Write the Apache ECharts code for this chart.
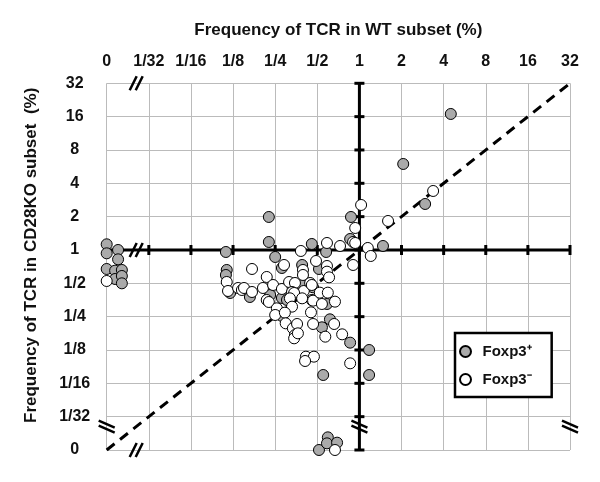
<!DOCTYPE html>
<html>
<head>
<meta charset="utf-8">
<script src="https://cdn.jsdelivr.net/npm/echarts@6/dist/echarts.min.js"></script>
<style>
html, body { margin: 0; padding: 0; background: #fff; }
#main { width: 600px; height: 482px; }
</style>
</head>
<body>
<div id="main"></div>
<script>
// positions are read on the log2 scale of the chart; -6 is the "0" column / row
var xTickLabels = ['0', '1/32', '1/16', '1/8', '1/4', '1/2', '1', '2', '4', '8', '16', '32'];
var yTickLabels = ['0', '1/32', '1/16', '1/8', '1/4', '1/2', '1', '2', '4', '8', '16', '32'];

// [WT, CD28KO]
var foxp3Pos = [
    [-6, 0.17], [-6, -0.1], [-5.73, 0], [-5.73, -0.28], [-6, -0.57], [-5.8, -0.62], [-5.64, -0.6],
    [-5.8, -0.87], [-5.64, -0.78], [-5.64, -1.0],
    [-0.96, -6], [-0.75, -5.62], [-0.77, -5.8], [-0.53, -5.78],
    [2.17, 4.08], [1.04, 2.58], [1.56, 1.38],
    [-0.2, 0.99], [-0.22, 0.33], [0.56, 0.12], [-0.79, -0.06], [-1.13, 0.18],
    [-2.15, 0.99], [-2.15, 0.24], [-3.17, -0.06], [-2, -0.21], [-3.15, -0.6], [-3.17, -0.75],
    [-3.07, -1.29], [-2.6, -1.41], [-2.12, -1.35],
    [-1.84, -0.54], [-1.36, -0.45], [-0.96, -0.57], [-1.36, -1.05], [-1.1, -1.12], [-1.84, -1.44],
    [-1.72, -1.5], [-1.13, -1.5], [-0.77, -1.62], [-1.84, -1.98], [-0.89, -2.32], [-0.7, -2.08],
    [-0.22, -2.78], [0.23, -3.0], [-0.86, -3.75], [0.23, -3.75]
];
var foxp3Neg = [
    [-6, -0.93], [-0.58, -6],
    [1.75, 1.77], [0.04, 1.35], [0.68, 0.87], [-0.1, 0.66], [-0.15, 0.24], [-0.1, 0.21], [-0.46, 0.12],
    [0.2, 0.06], [0.27, -0.18], [-0.77, 0.21], [-1.39, -0.03], [-1.03, -0.33], [-0.77, -0.48], [-0.15, -0.45],
    [-2.55, -0.57], [-3.15, -0.96], [-3.12, -1.23], [-2.88, -1.14], [-2.79, -1.2], [-2.74, -1.14],
    [-2.55, -1.26], [-2.29, -1.14], [-2.2, -0.81], [-2.05, -1.05], [-2.2, -1.5], [-2.15, -1.56],
    [-1.79, -0.45], [-1.34, -0.6], [-1.34, -0.75], [-0.77, -0.65], [-0.72, -0.82],
    [-1.84, -1.17], [-1.67, -0.96], [-1.53, -0.99], [-1.32, -1.23], [-1.17, -0.99], [-1.13, -1.05],
    [-1.6, -1.26], [-1.55, -1.29], [-1.65, -1.45], [-1.6, -1.7], [-1.36, -1.45], [-1.1, -1.52],
    [-0.94, -1.28], [-0.75, -1.28], [-0.89, -1.62], [-0.58, -1.55], [-1.96, -1.75], [-2.0, -1.95],
    [-1.77, -1.88], [-1.15, -1.87], [-1.75, -2.2], [-1.58, -2.35], [-1.48, -2.22], [-1.53, -2.55],
    [-1.55, -2.65], [-1.46, -2.5], [-1.1, -2.22], [-0.6, -2.22], [-0.81, -2.6], [-0.41, -2.53],
    [-1.27, -3.2], [-1.08, -3.2], [-1.29, -3.33], [-0.22, -3.4]
];
var diagonal = [[-6, -6], [5, 5]];
// axis breaks: [x, y, kind] kind 's' = steep slashes, 'f' = flat slashes
var breakMarks = [[-5.3, 5, 's'], [-5.3, 0, 's'], [-5.3, -6, 's'], [-6, -5.3, 'f'], [0, -5.3, 'f'], [5, -5.3, 'f']];

var FONT = '"Liberation Sans", Arial, Helvetica, sans-serif';
var chart = echarts.init(document.getElementById('main'));

function renderDecor(params, api) {
    var ch = [];
    function line(x1, y1, x2, y2, w) {
        ch.push({ type: 'line', shape: { x1: x1, y1: y1, x2: x2, y2: y2 },
            style: { stroke: '#000', lineWidth: w, lineCap: 'butt' } });
    }
    var a = api.coord([0, -6]), b = api.coord([0, 5]);
    line(a[0], a[1], b[0], b[1], 3);
    a = api.coord([-6, 0]); b = api.coord([5, 0]);
    line(a[0], a[1], b[0], b[1], 3);
    for (var i = -6; i <= 5; i++) {
        var p = api.coord([0, i]);
        line(p[0] - 5, p[1], p[0] + 5, p[1], 3);
        if (i > -6) {
            var q = api.coord([i, 0]);
            line(q[0], q[1] - 5, q[0], q[1] + 5, 3);
        }
    }
    breakMarks.forEach(function (m) {
        var c = api.coord([m[0], m[1]]);
        for (var k = -1; k <= 1; k += 2) {
            if (m[2] === 's') {
                line(c[0] + k * 3 - 3.5, c[1] + 7, c[0] + k * 3 + 3.5, c[1] - 7, 2.5);
            } else {
                line(c[0] - 8, c[1] + k * 2.5 - 3.5, c[0] + 8, c[1] + k * 2.5 + 3.5, 2.5);
            }
        }
    });
    return { type: 'group', children: ch };
}

chart.setOption({
    animation: false,
    backgroundColor: '#fff',
    textStyle: { fontFamily: FONT },
    grid: { left: 106.7, right: 30, top: 83.3, bottom: 32 },
    graphic: [{
        type: 'text',
        rotation: Math.PI / 2, x: 23, y: 423, originX: 0, originY: 0,
        style: { text: 'Frequency of TCR in CD28KO subset  (%)', font: 'bold 17px ' + FONT, fill: '#111' }
    }],
    legend: {
        data: ['Foxp3⁺', 'Foxp3⁻'],
        orient: 'vertical', left: 455, top: 333,
        padding: [11, 20, 10, 4], itemGap: 13, itemWidth: 24, itemHeight: 11,
        backgroundColor: '#fff', borderColor: '#000', borderWidth: 2.5, borderRadius: 0,
        icon: 'circle',
        textStyle: { fontSize: 15, fontWeight: 'bold', color: '#111', fontFamily: FONT }
    },
    xAxis: {
        type: 'value', position: 'top', min: -6, max: 5, interval: 1,
        name: 'Frequency of TCR in WT subset (%)', nameLocation: 'middle', nameGap: 44,
        nameTextStyle: { fontSize: 17, fontWeight: 'bold', color: '#111', fontFamily: FONT },
        axisLine: { show: false }, axisTick: { show: false },
        axisLabel: { fontSize: 16, fontWeight: 'bold', color: '#111', margin: 14,
            formatter: function (v) { return xTickLabels[v + 6]; } },
        splitLine: { show: true, lineStyle: { color: '#bbb', width: 1 } }
    },
    yAxis: {
        type: 'value', min: -6, max: 5, interval: 1,
        axisLine: { show: false }, axisTick: { show: false },
        axisLabel: { fontSize: 16, fontWeight: 'bold', color: '#111', margin: 32, align: 'center',
            formatter: function (v) { return yTickLabels[v + 6]; } },
        splitLine: { show: true, lineStyle: { color: '#bbb', width: 1 } }
    },
    series: [
        {
            type: 'custom', renderItem: renderDecor, data: [[0, 0]], z: 2, silent: true
        },
        {
            type: 'line', data: diagonal, showSymbol: false, z: 2, silent: true,
            lineStyle: { color: '#000', width: 3, type: [10, 7] }
        },
        {
            name: 'Foxp3⁺', type: 'scatter', data: foxp3Pos, symbolSize: 11, z: 4,
            itemStyle: { color: '#aaa', borderColor: '#000', borderWidth: 1, opacity: 1 }
        },
        {
            name: 'Foxp3⁻', type: 'scatter', data: foxp3Neg, symbolSize: 11, z: 4,
            itemStyle: { color: '#fff', borderColor: '#000', borderWidth: 1, opacity: 1 }
        }
    ]
});
</script>
</body>
</html>
